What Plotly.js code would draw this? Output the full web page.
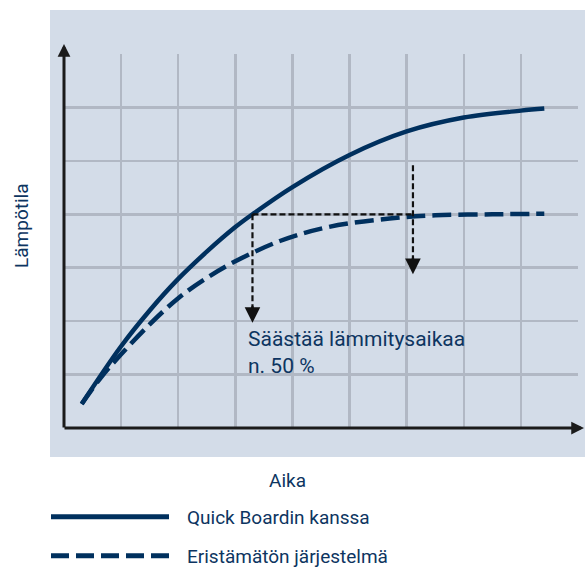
<!DOCTYPE html>
<html>
<head>
<meta charset="utf-8">
<script src="https://cdn.plot.ly/plotly-3.0.1.min.js"></script>
<style>html,body{margin:0;padding:0;background:#fff;}#chart{width:585px;height:568px;}</style>
</head>
<body>
<div id="chart"></div>
<script>
// ---- data ----
const timeSolid = [0.31, 1.0, 1.5, 2.0, 2.5, 3.0, 3.3, 4.0, 5.0, 6.0, 7.0, 8.0, 8.41];
const tempSolid = [0.45, 1.53, 2.20, 2.79, 3.30, 3.76, 4.0, 4.51, 5.11, 5.55, 5.81, 5.94, 5.98];
const timeDashed = [0.31, 0.65, 1.0, 1.5, 2.0, 2.5, 3.0, 3.78, 4.62, 5.7, 6.5, 7.5, 8.41];
const tempDashed = [0.45, 0.95, 1.38, 1.94, 2.43, 2.81, 3.12, 3.50, 3.76, 3.92, 3.98, 4.0, 4.01];
const seriesNames = ['Quick Boardin kanssa', 'Eristämätön järjestelmä'];
// guide lines: reach level, start/end times, arrow tips
const guideLevel = [4.0];
const guideTimes = [3.30, 6.11];
const guideTops = [4.0, 4.92];
const guideTips = [1.97, 2.88];
const noteText = ['Säästää lämmitysaikaa', 'n. 50 %'];
const xTitle = 'Aika';
const yTitle = 'Lämpötila';

const navy = '#00305e';
const textNavy = '#0d3561';
const FONT = 'Roboto, "Liberation Sans", sans-serif';

// pixel -> paper helpers (plot area 64..578 x 54..428)
const L = 64, T = 54, W = 514, H = 374;
const pxX = x => (x - L) / W;
const pxY = y => (T + H - y) / H;

const traces = [
  {x: timeSolid, y: tempSolid, type: 'scatter', mode: 'lines', name: seriesNames[0],
   line: {color: navy, width: 4.5, shape: 'spline', smoothing: 1, simplify: false}, showlegend: false, hoverinfo: 'skip'},
  {x: timeDashed, y: tempDashed, type: 'scatter', mode: 'lines', name: seriesNames[1],
   line: {color: navy, width: 4.5, shape: 'spline', smoothing: 1, simplify: false, dash: '19px,7px'}, showlegend: false, hoverinfo: 'skip'},
  // guide dashed lines
  {x: [guideTimes[0], guideTimes[1]], y: [guideLevel[0], guideLevel[0]], type: 'scatter', mode: 'lines',
   line: {color: '#111', width: 2.2, dash: '6px,3px'}, showlegend: false, hoverinfo: 'skip'},
  {x: [guideTimes[0], guideTimes[0]], y: [guideTops[0], guideTips[0] + 0.25], type: 'scatter', mode: 'lines',
   line: {color: '#111', width: 2.2, dash: '6px,3px'}, showlegend: false, hoverinfo: 'skip'},
  {x: [guideTimes[1], guideTimes[1]], y: [guideTops[1], guideTips[1] + 0.25], type: 'scatter', mode: 'lines',
   line: {color: '#111', width: 2.2, dash: '6px,3px'}, showlegend: false, hoverinfo: 'skip'}
];

const shapes = [
  {type: 'rect', xref: 'paper', yref: 'paper', x0: pxX(50), x1: pxX(590), y0: pxY(457), y1: pxY(10),
   fillcolor: '#d3dce8', line: {width: 0}, layer: 'below'},
  {type: 'line', xref: 'paper', yref: 'paper', x0: pxX(51), x1: pxX(169), y0: pxY(516.7), y1: pxY(516.7),
   line: {color: navy, width: 5}},
  {type: 'line', xref: 'paper', yref: 'paper', x0: pxX(51), x1: pxX(169), y0: pxY(555.7), y1: pxY(555.7),
   line: {color: navy, width: 5, dash: '18px,7px'}}
];

const annotations = [
  // axis arrows
  {xref: 'paper', yref: 'paper', x: pxX(64), y: pxY(44), ax: 0, ay: 385, text: '', showarrow: true,
   arrowhead: 2, arrowsize: 0.85, arrowwidth: 3, arrowcolor: '#1b1b1b'},
  {xref: 'paper', yref: 'paper', x: pxX(586), y: pxY(428), ax: -523, ay: 0, text: '', showarrow: true,
   arrowhead: 2, arrowsize: 0.85, arrowwidth: 3, arrowcolor: '#1b1b1b'},
  // guide arrowheads
  {xref: 'x', yref: 'y', x: guideTimes[0], y: guideTips[0], ax: 0, ay: -18, text: '', showarrow: true,
   arrowhead: 2, arrowsize: 1.3, arrowwidth: 2.4, arrowcolor: '#111'},
  {xref: 'x', yref: 'y', x: guideTimes[1], y: guideTips[1], ax: 0, ay: -18, text: '', showarrow: true,
   arrowhead: 2, arrowsize: 1.3, arrowwidth: 2.4, arrowcolor: '#111'},
  // note
  {xref: 'paper', yref: 'paper', x: pxX(246), y: pxY(352), xanchor: 'left', yanchor: 'middle', align: 'left',
   text: noteText.join('<br>'), showarrow: false, font: {family: FONT, size: 21, color: textNavy}},
  // axis titles
  {xref: 'paper', yref: 'paper', x: pxX(287.5), y: pxY(481), xanchor: 'center', yanchor: 'middle',
   text: xTitle, showarrow: false, font: {family: FONT, size: 19, color: textNavy}},
  {xref: 'paper', yref: 'paper', x: pxX(22), y: pxY(226), xanchor: 'center', yanchor: 'middle', textangle: -90,
   text: yTitle, showarrow: false, font: {family: FONT, size: 19, color: textNavy}},
  // legend labels
  {xref: 'paper', yref: 'paper', x: pxX(185), y: pxY(517), xanchor: 'left', yanchor: 'middle',
   text: seriesNames[0], showarrow: false, font: {family: FONT, size: 19, color: textNavy}},
  {xref: 'paper', yref: 'paper', x: pxX(185), y: pxY(556), xanchor: 'left', yanchor: 'middle',
   text: seriesNames[1], showarrow: false, font: {family: FONT, size: 19, color: textNavy}}
];

const layout = {
  width: 585, height: 568,
  margin: {l: L, r: 585 - L - W, t: T, b: 568 - T - H, pad: 0},
  paper_bgcolor: '#ffffff',
  plot_bgcolor: 'rgba(0,0,0,0)',
  showlegend: false,
  xaxis: {range: [0, 9], dtick: 1, tick0: 0, showticklabels: false, ticks: '', zeroline: false, showline: false,
          showgrid: true, gridcolor: '#b1b8c4', gridwidth: 2.5, fixedrange: true},
  yaxis: {range: [0, 7], dtick: 1, tick0: 0, showticklabels: false, ticks: '', zeroline: false, showline: false,
          showgrid: true, gridcolor: '#b1b8c4', gridwidth: 2.5, fixedrange: true},
  shapes: shapes,
  annotations: annotations
};

Plotly.newPlot('chart', traces, layout, {displayModeBar: false, staticPlot: true});
</script>
</body>
</html>
